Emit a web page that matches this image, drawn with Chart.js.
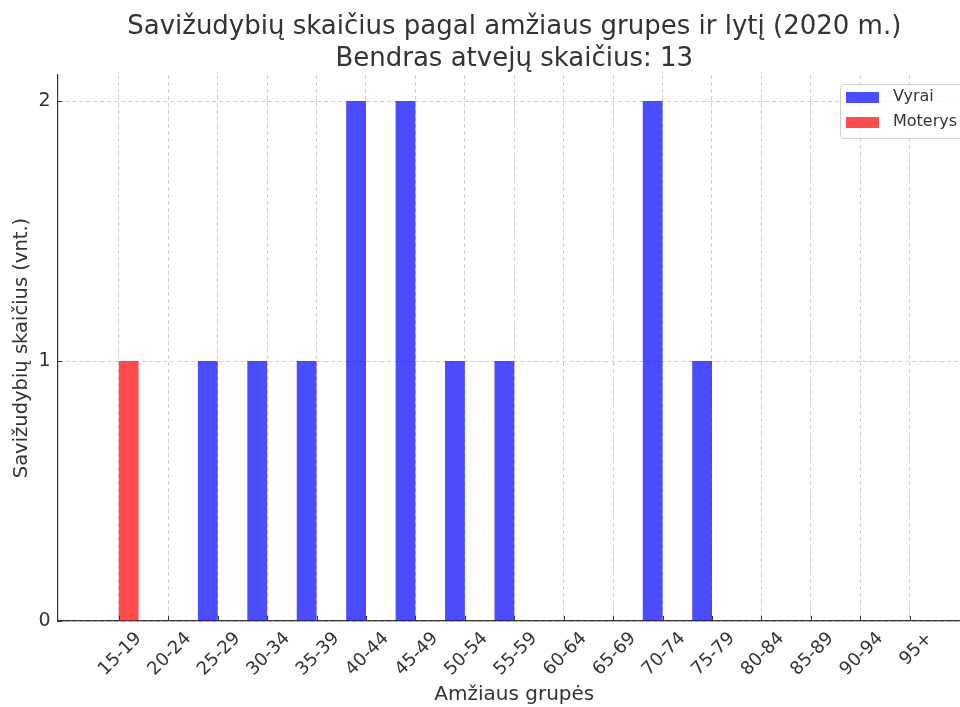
<!DOCTYPE html>
<html lang="lt">
<head>
    <meta charset="UTF-8">
    <title>Savižudybių skaičius pagal amžiaus grupes ir lytį</title>
    <script src="https://cdn.jsdelivr.net/npm/chart.js"></script>
    <style>
        html, body {
            margin: 0;
            padding: 0;
            background: #ffffff;
            overflow: hidden;
        }
        #chart {
            display: block;
        }
    </style>
</head>
<body>
    <canvas id="chart" width="1000" height="707"></canvas>

    <script>
        // duomenys
        const ageGroups = ['15-19', '20-24', '25-29', '30-34', '35-39', '40-44', '45-49', '50-54',
            '55-59', '60-64', '65-69', '70-74', '75-79', '80-84', '85-89', '90-94', '95+'];
        const vyrai = [0, 0, 1, 1, 1, 2, 2, 1, 1, 0, 0, 2, 1, 0, 0, 0, 0];
        const moterys = [1, 0, 0, 0, 0, 0, 0, 0, 0, 0, 0, 0, 0, 0, 0, 0, 0];
        const yTicks = [0, 1, 2];
        const titleLines = ['Savižudybių skaičius pagal amžiaus grupes ir lytį (2020 m.)',
            'Bendras atvejų skaičius: 13'];

        const FONT = "'DejaVu Sans', sans-serif";
        const TEXT = '#333333';
        const GRID = 'rgba(185, 185, 185, 0.7)';

        // pavadinimas virš grafiko (centruotas pagal ašis)
        const titlePlugin = {
            id: 'titleText',
            afterDraw(chart) {
                const ctx = chart.ctx;
                const area = chart.chartArea;
                const cx = (area.left + area.right) / 2;
                ctx.save();
                ctx.fillStyle = TEXT;
                ctx.font = '26px ' + FONT;
                ctx.textAlign = 'center';
                ctx.textBaseline = 'alphabetic';
                ctx.fillText(titleLines[0], cx, 34);
                ctx.fillText(titleLines[1], cx, 65.5);
                ctx.restore();
            }
        };

        // į vidų nukreiptos padalos
        const tickPlugin = {
            id: 'innerTicks',
            afterDraw(chart) {
                const ctx = chart.ctx;
                const x = chart.scales.x;
                const y = chart.scales.y;
                ctx.save();
                ctx.strokeStyle = '#333333';
                ctx.lineWidth = 1;
                x.ticks.forEach(t => {
                    const px = Math.round(x.getPixelForValue(t.value)) + 0.5;
                    ctx.beginPath();
                    ctx.moveTo(px, y.bottom);
                    ctx.lineTo(px, y.bottom - 5);
                    ctx.stroke();
                });
                y.ticks.forEach(t => {
                    const py = Math.round(y.getPixelForValue(t.value)) + 0.5;
                    ctx.beginPath();
                    ctx.moveTo(x.left, py);
                    ctx.lineTo(x.left + 5, py);
                    ctx.stroke();
                });
                ctx.restore();
            }
        };

        // legenda su rėmeliu dešiniajame viršutiniame kampe
        const legendPlugin = {
            id: 'boxLegend',
            afterDraw(chart) {
                const ctx = chart.ctx;
                const area = chart.chartArea;
                const right = area.right - 7;
                const left = area.right - 131;
                const top = area.top + 9;
                const h = 54;
                ctx.save();
                ctx.fillStyle = 'rgba(255,255,255,0.8)';
                ctx.strokeStyle = '#d0d0d0';
                ctx.lineWidth = 1;
                ctx.beginPath();
                ctx.roundRect(left + 0.5, top + 0.5, right - left, h, 3);
                ctx.fill();
                ctx.stroke();
                ctx.font = '16px ' + FONT;
                ctx.textBaseline = 'middle';
                ctx.textAlign = 'left';
                chart.data.datasets.forEach((ds, i) => {
                    const cy = top + 13 + i * 25;
                    ctx.fillStyle = ds.backgroundColor;
                    ctx.fillRect(left + 6, cy - 5, 33, 11);
                    ctx.fillStyle = TEXT;
                    ctx.fillText(ds.label, left + 53, cy);
                });
                ctx.restore();
            }
        };

        new Chart(document.getElementById('chart'), {
            type: 'bar',
            data: {
                datasets: [{
                    label: 'Vyrai',
                    data: vyrai.map((v, i) => ({ x: i, y: v })),
                    backgroundColor: 'rgba(0, 0, 255, 0.7)',
                    borderWidth: 0
                }, {
                    label: 'Moterys',
                    data: moterys.map((v, i) => ({ x: i, y: v })),
                    backgroundColor: 'rgba(255, 0, 0, 0.7)',
                    borderWidth: 0
                }]
            },
            options: {
                responsive: false,
                animation: false,
                layout: { padding: { top: 75, right: 29, left: 0, bottom: 0 } },
                datasets: { bar: { categoryPercentage: 0.8, barPercentage: 1 } },
                plugins: {
                    legend: { display: false },
                    tooltip: { enabled: false }
                },
                scales: {
                    x: {
                        type: 'linear',
                        min: -1.24,
                        max: 17.24,
                        offset: false,
                        z: 1,
                        afterBuildTicks: (scale) => { scale.ticks = ageGroups.map((_, i) => ({ value: i })); },
                        afterFit: (scale) => { scale.height = 86; scale.paddingLeft = 0; scale.paddingRight = 0; },
                        ticks: {
                            autoSkip: false,
                            minRotation: 45,
                            maxRotation: 45,
                            labelOffset: 20,
                            padding: 7,
                            color: TEXT,
                            font: { family: FONT, size: 18 },
                            callback: (v) => ageGroups[v]
                        },
                        grid: {
                            color: GRID,
                            offset: false,
                            drawTicks: false,
                            tickLength: 0
                        },
                        border: { color: '#333333', width: 1.2, dash: [4, 3] },
                        title: {
                            display: true,
                            text: 'Amžiaus grupės',
                            color: TEXT,
                            font: { family: FONT, size: 20 },
                            padding: { top: 0, bottom: 0 }
                        }
                    },
                    y: {
                        min: 0,
                        max: 2.1,
                        z: 1,
                        afterBuildTicks: (scale) => { scale.ticks = yTicks.map(v => ({ value: v })); },
                        afterFit: (scale) => { scale.width = 57.5; },
                        ticks: {
                            padding: 7,
                            color: TEXT,
                            font: { family: FONT, size: 19 }
                        },
                        grid: {
                            color: GRID,
                            drawTicks: false,
                            tickLength: 0
                        },
                        border: { color: '#333333', width: 1.2, dash: [4, 3] },
                        title: {
                            display: true,
                            text: 'Savižudybių skaičius (vnt.)',
                            color: TEXT,
                            font: { family: FONT, size: 19.5 },
                            padding: { top: 10, bottom: 0 }
                        }
                    }
                }
            },
            plugins: [titlePlugin, tickPlugin, legendPlugin]
        });
    </script>
</body>
</html>
